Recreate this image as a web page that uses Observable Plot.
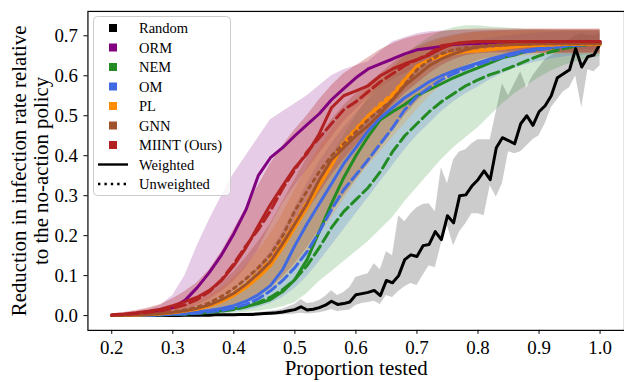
<!DOCTYPE html>
<html><head><meta charset="utf-8">
<script src="https://cdn.jsdelivr.net/npm/d3@7"></script>
<script src="https://cdn.jsdelivr.net/npm/@observablehq/plot@0.6"></script>
<style>
body{margin:0;background:#fff;}
#wrap{position:relative;width:624px;height:382px;overflow:hidden;}
#wrap svg{display:block;}
#legend{position:absolute;left:93px;top:16px;}
</style></head>
<body><div id="wrap"></div>
<script>
const xs = [0.20,0.22,0.24,0.26,0.28,0.30,0.32,0.34,0.36,0.38,0.40,0.42,0.44,0.46,0.48,0.50,0.52,0.54,0.56,0.58,0.60,0.62,0.64,0.66,0.68,0.70,0.72,0.74,0.76,0.78,0.80,0.82,0.84,0.86,0.88,0.90,0.92,0.94,0.96,0.98,1.00];
const xsRandom = [0.20,0.21,0.22,0.23,0.24,0.25,0.26,0.27,0.28,0.29,0.30,0.31,0.32,0.33,0.34,0.35,0.36,0.37,0.38,0.39,0.40,0.41,0.42,0.43,0.44,0.45,0.46,0.47,0.48,0.49,0.50,0.51,0.52,0.53,0.54,0.55,0.56,0.57,0.58,0.59,0.60,0.61,0.62,0.63,0.64,0.65,0.66,0.67,0.68,0.69,0.70,0.71,0.72,0.73,0.74,0.75,0.76,0.77,0.78,0.79,0.80,0.81,0.82,0.83,0.84,0.85,0.86,0.87,0.88,0.89,0.90,0.91,0.92,0.93,0.94,0.95,0.96,0.97,0.98,0.99,1.00];

const randomMean = [0,0,0,0,0,0,0,0,0,0, 0,0,0.001,0.001,0.001,0.001,0.001,0.002,0.002,0.002, 0.002,0.003,0.003,0.003,0.004,0.005,0.006,0.007,0.009,0.012, 0.015,0.022,0.014,0.016,0.020,0.026,0.036,0.028,0.030,0.034, 0.052,0.055,0.058,0.063,0.050,0.088,0.082,0.100,0.140,0.152, 0.148,0.175,0.178,0.210,0.190,0.250,0.232,0.300,0.302,0.324, 0.340,0.362,0.340,0.420,0.445,0.438,0.430,0.480,0.500,0.476, 0.510,0.525,0.550,0.595,0.605,0.615,0.668,0.622,0.648,0.652,0.680];
const randomLow = [0,0,0,0,0,0,0,0,0,0, 0,0,0,0,0,0,0,0,0,0, 0,0,0,0,0,0,0,0.001,0.002,0.003, 0.004,0.006,0.004,0.005,0.007,0.010,0.015,0.010,0.012,0.014, 0.025,0.030,0.033,0.036,0.028,0.050,0.045,0.060,0.072,0.080, 0.075,0.100,0.125,0.120,0.180,0.225,0.175,0.210,0.230,0.255, 0.255,0.250,0.325,0.297,0.330,0.410,0.405,0.410,0.425,0.440, 0.450,0.480,0.520,0.540,0.560,0.570,0.600,0.520,0.615,0.610,0.625];
const randomHigh = [0,0,0,0,0,0,0,0,0,0, 0.001,0.001,0.001,0.002,0.002,0.002,0.002,0.003,0.003,0.004, 0.004,0.005,0.006,0.007,0.008,0.009,0.011,0.013,0.016,0.022, 0.028,0.040,0.030,0.032,0.038,0.048,0.062,0.050,0.058,0.070, 0.095,0.100,0.105,0.130,0.115,0.160,0.150,0.250,0.235,0.255, 0.270,0.278,0.280,0.260,0.370,0.330,0.390,0.410,0.415,0.430, 0.440,0.440,0.440,0.510,0.580,0.550,0.580,0.610,0.570,0.600, 0.620,0.640,0.650,0.660,0.680,0.690,0.700,0.705,0.700,0.700,0.705];

const ormMean = [0.000,0.002,0.004,0.007,0.011,0.020,0.038,0.070,0.108,0.152,0.205,0.265,0.350,0.395,0.420,0.450,0.478,0.505,0.540,0.568,0.595,0.617,0.630,0.642,0.655,0.665,0.669,0.673,0.678,0.680,0.681,0.681,0.682,0.682,0.682,0.683,0.683,0.683,0.683,0.684,0.684];
const ormLow = [0,0,0.001,0.002,0.004,0.008,0.014,0.025,0.040,0.060,0.085,0.120,0.165,0.225,0.280,0.325,0.365,0.405,0.445,0.485,0.515,0.545,0.570,0.590,0.605,0.620,0.632,0.642,0.650,0.655,0.658,0.660,0.662,0.663,0.664,0.665,0.665,0.665,0.665,0.665,0.665];
const ormHigh = [0.003,0.006,0.010,0.016,0.025,0.050,0.100,0.175,0.240,0.300,0.355,0.400,0.445,0.490,0.510,0.530,0.550,0.575,0.600,0.615,0.625,0.635,0.660,0.685,0.695,0.705,0.710,0.712,0.713,0.713,0.713,0.713,0.713,0.713,0.713,0.713,0.713,0.713,0.713,0.713,0.713];

const nemWeighted = [0.000,0.000,0.001,0.001,0.002,0.003,0.004,0.006,0.008,0.012,0.017,0.023,0.030,0.040,0.060,0.090,0.140,0.210,0.280,0.345,0.400,0.448,0.490,0.510,0.528,0.550,0.565,0.580,0.595,0.608,0.620,0.632,0.645,0.652,0.662,0.667,0.671,0.674,0.676,0.678,0.679];
const nemUnweighted = [0.000,0.000,0.001,0.001,0.002,0.003,0.004,0.006,0.008,0.011,0.015,0.022,0.033,0.046,0.065,0.090,0.125,0.170,0.220,0.260,0.290,0.320,0.360,0.410,0.450,0.480,0.510,0.535,0.555,0.575,0.590,0.603,0.613,0.625,0.638,0.650,0.660,0.668,0.674,0.678,0.680];
const nemLow = [0,0,0,0,0,0,0.001,0.002,0.003,0.004,0.006,0.008,0.011,0.015,0.022,0.032,0.055,0.085,0.110,0.135,0.160,0.185,0.215,0.245,0.285,0.320,0.355,0.390,0.420,0.445,0.470,0.500,0.530,0.555,0.575,0.595,0.612,0.625,0.635,0.642,0.648];
const nemHigh = [0.001,0.002,0.003,0.005,0.007,0.010,0.014,0.020,0.028,0.040,0.055,0.075,0.100,0.130,0.170,0.220,0.280,0.340,0.400,0.450,0.500,0.545,0.585,0.620,0.650,0.675,0.695,0.710,0.720,0.725,0.725,0.722,0.720,0.718,0.716,0.715,0.714,0.713,0.713,0.713,0.713];

const omWeighted = [0.000,0.000,0.001,0.001,0.002,0.004,0.006,0.009,0.013,0.018,0.025,0.036,0.052,0.075,0.115,0.175,0.230,0.280,0.330,0.380,0.420,0.462,0.495,0.520,0.545,0.565,0.585,0.600,0.612,0.622,0.632,0.642,0.650,0.658,0.664,0.668,0.672,0.675,0.677,0.678,0.679];
const omUnweighted = [0.000,0.000,0.001,0.001,0.002,0.003,0.004,0.006,0.009,0.013,0.019,0.028,0.042,0.062,0.088,0.120,0.160,0.210,0.265,0.315,0.352,0.390,0.430,0.470,0.515,0.548,0.570,0.590,0.605,0.618,0.628,0.638,0.646,0.654,0.660,0.665,0.670,0.673,0.676,0.678,0.679];
const omLow = [0,0,0,0,0.001,0.001,0.002,0.003,0.004,0.006,0.009,0.013,0.020,0.030,0.045,0.068,0.098,0.135,0.175,0.215,0.255,0.295,0.335,0.375,0.415,0.450,0.480,0.510,0.535,0.555,0.572,0.590,0.605,0.618,0.628,0.636,0.642,0.647,0.650,0.652,0.653];
const omHigh = [0.001,0.002,0.003,0.005,0.008,0.012,0.017,0.024,0.034,0.048,0.066,0.090,0.120,0.160,0.210,0.270,0.330,0.385,0.430,0.470,0.505,0.540,0.570,0.595,0.615,0.632,0.648,0.660,0.670,0.680,0.688,0.694,0.698,0.702,0.705,0.707,0.709,0.710,0.711,0.711,0.711];

const plWeighted = [0.000,0.001,0.001,0.002,0.004,0.007,0.011,0.016,0.024,0.035,0.050,0.070,0.095,0.125,0.170,0.220,0.270,0.325,0.375,0.430,0.465,0.500,0.525,0.550,0.590,0.625,0.640,0.648,0.655,0.660,0.662,0.665,0.668,0.672,0.675,0.676,0.677,0.678,0.678,0.678,0.678];
const plUnweighted = [0.000,0.001,0.002,0.003,0.005,0.008,0.012,0.018,0.027,0.040,0.057,0.080,0.108,0.140,0.185,0.235,0.285,0.335,0.385,0.435,0.468,0.500,0.530,0.555,0.592,0.622,0.640,0.650,0.657,0.662,0.665,0.668,0.670,0.673,0.675,0.676,0.677,0.678,0.678,0.678,0.678];
const plLow = [0,0,0,0.001,0.002,0.003,0.004,0.006,0.010,0.015,0.022,0.032,0.045,0.062,0.085,0.118,0.155,0.200,0.245,0.290,0.335,0.375,0.410,0.445,0.480,0.515,0.548,0.575,0.598,0.615,0.628,0.636,0.642,0.647,0.650,0.652,0.653,0.654,0.654,0.654,0.654];
const plHigh = [0.002,0.003,0.005,0.008,0.011,0.016,0.024,0.035,0.050,0.070,0.095,0.125,0.162,0.205,0.255,0.315,0.370,0.420,0.465,0.505,0.540,0.570,0.595,0.620,0.645,0.665,0.680,0.690,0.698,0.704,0.708,0.710,0.711,0.712,0.712,0.712,0.712,0.712,0.712,0.712,0.712];

const gnnWeighted = [0.000,0.001,0.002,0.003,0.005,0.008,0.012,0.018,0.027,0.040,0.056,0.078,0.105,0.135,0.180,0.230,0.280,0.340,0.390,0.420,0.450,0.475,0.505,0.540,0.575,0.600,0.625,0.642,0.655,0.665,0.672,0.675,0.677,0.678,0.679,0.680,0.680,0.680,0.680,0.680,0.680];
const gnnUnweighted = [0.000,0.001,0.002,0.004,0.006,0.009,0.014,0.021,0.032,0.048,0.068,0.092,0.120,0.152,0.200,0.262,0.312,0.360,0.400,0.430,0.460,0.490,0.515,0.540,0.578,0.615,0.638,0.655,0.665,0.670,0.674,0.676,0.677,0.678,0.679,0.680,0.680,0.680,0.680,0.680,0.680];
const gnnLow = [0,0,0.001,0.001,0.002,0.003,0.005,0.008,0.012,0.018,0.026,0.038,0.052,0.070,0.095,0.130,0.170,0.215,0.260,0.300,0.340,0.380,0.420,0.460,0.500,0.535,0.565,0.590,0.610,0.625,0.638,0.645,0.650,0.653,0.655,0.656,0.657,0.657,0.657,0.657,0.657];
const gnnHigh = [0.002,0.004,0.006,0.009,0.013,0.019,0.027,0.040,0.058,0.082,0.110,0.145,0.185,0.230,0.285,0.340,0.395,0.445,0.490,0.525,0.555,0.580,0.605,0.630,0.655,0.672,0.685,0.695,0.702,0.707,0.710,0.712,0.713,0.714,0.715,0.716,0.716,0.716,0.716,0.716,0.716];

const miintWeighted = [0.002,0.004,0.007,0.011,0.016,0.025,0.035,0.046,0.063,0.088,0.125,0.170,0.225,0.278,0.325,0.370,0.405,0.455,0.520,0.550,0.562,0.575,0.600,0.617,0.630,0.640,0.652,0.668,0.680,0.684,0.686,0.686,0.686,0.686,0.686,0.686,0.686,0.686,0.686,0.686,0.686];
const miintUnweighted = [0.001,0.003,0.005,0.008,0.012,0.018,0.027,0.040,0.060,0.090,0.130,0.175,0.215,0.262,0.318,0.365,0.410,0.445,0.480,0.515,0.535,0.560,0.585,0.605,0.625,0.640,0.655,0.675,0.680,0.683,0.685,0.685,0.685,0.685,0.685,0.685,0.685,0.685,0.685,0.685,0.685];
const miintLow = [0,0.001,0.002,0.004,0.006,0.010,0.015,0.022,0.032,0.045,0.062,0.085,0.110,0.140,0.175,0.215,0.260,0.305,0.350,0.390,0.425,0.460,0.495,0.525,0.555,0.580,0.605,0.625,0.640,0.650,0.655,0.657,0.657,0.657,0.657,0.657,0.657,0.657,0.657,0.657,0.657];
const miintHigh = [0.004,0.008,0.013,0.019,0.028,0.042,0.060,0.082,0.115,0.160,0.215,0.270,0.325,0.380,0.425,0.465,0.500,0.540,0.575,0.605,0.625,0.645,0.665,0.680,0.692,0.700,0.706,0.710,0.714,0.716,0.717,0.717,0.717,0.717,0.717,0.717,0.717,0.717,0.717,0.717,0.717];

const xTicks = [0.2,0.3,0.4,0.5,0.6,0.7,0.8,0.9,1.0];
const yTicks = [0.0,0.1,0.2,0.3,0.4,0.5,0.6,0.7];
const legendNames = ["Random","ORM","NEM","OM","PL","GNN","MIINT (Ours)"];
const legendColors = ["#000000","#800080","#228b22","#4169e1","#ff8c00","#a0522d","#b22222"];
const styleNames = ["Weighted","Unweighted"];

const FONT = "'Liberation Serif', 'DejaVu Serif', serif";

const methods = [
  {color:"#808080", op: 0.4, x: xsRandom, low: randomLow, high: randomHigh, lines: [{v: randomMean, dash: null, color:"#000000"}]},
  {color:"#800080", op: 0.2, x: xs, low: ormLow, high: ormHigh, lines: [{v: ormMean, dash: null}]},
  {color:"#228b22", op: 0.2, x: xs, low: nemLow, high: nemHigh, lines: [{v: nemWeighted, dash: null},{v: nemUnweighted, dash: "11,5"}]},
  {color:"#4169e1", op: 0.22, x: xs, low: omLow, high: omHigh, lines: [{v: omWeighted, dash: null},{v: omUnweighted, dash: "11,5"}]},
  {color:"#ff8c00", op: 0.22, x: xs, low: plLow, high: plHigh, lines: [{v: plWeighted, dash: null},{v: plUnweighted, dash: "3,5"}]},
  {color:"#a0522d", op: 0.3, x: xs, low: gnnLow, high: gnnHigh, lines: [{v: gnnWeighted, dash: null},{v: gnnUnweighted, dash: "3,5"}]},
  {color:"#b22222", op: 0.3, x: xs, low: miintLow, high: miintHigh, lines: [{v: miintWeighted, dash: null},{v: miintUnweighted, dash: "11,5"}]}
];

const marks = [];
methods.forEach((m) => {
  const band = m.x.map((x, i) => ({x, lo: m.low[i], hi: m.high[i]}));
  marks.push(Plot.areaY(band, {x: "x", y1: "lo", y2: "hi", fill: m.color, fillOpacity: m.op}));
});
methods.forEach((m) => {
  m.lines.forEach(l => {
    const rows = m.x.map((x, i) => ({x, v: l.v[i]}));
    marks.push(Plot.line(rows, {x: "x", y: "v", stroke: l.color || m.color, strokeWidth: 3,
      strokeDasharray: l.dash || undefined, strokeLinejoin: "round"}));
  });
});

const chart = Plot.plot({
  width: 628, height: 382,
  marginLeft: 88, marginRight: 0, marginTop: 11, marginBottom: 50,
  x: {domain: [0.161, 1.04]},
  y: {domain: [-0.037, 0.761]},
  style: {fontFamily: FONT, fontSize: "19px", background: "white", color: "black", overflow: "hidden"},
  marks: [
    ...marks,
    Plot.frame({stroke: "black", strokeWidth: 1.2}),
    Plot.axisX({ticks: xTicks, tickFormat: d => d.toFixed(1), tickSize: 4, tickPadding: 6, label: null, fontSize: 19}),
    Plot.axisY({ticks: yTicks, tickFormat: d => d.toFixed(1), tickSize: 4, tickPadding: 6, label: null, fontSize: 19}),
    Plot.text(["Proportion tested"], {frameAnchor: "bottom", dy: 38, fontSize: 21, lineAnchor: "middle", textAnchor: "middle"}),
    Plot.text(["Reduction in infection rate relative\nto the no-action policy"], {frameAnchor: "left", rotate: -90, dx: -58, fontSize: 21, lineHeight: 1.05, lineAnchor: "middle", textAnchor: "middle"})
  ]
});
const wrap = document.getElementById("wrap");
wrap.appendChild(chart);

// Legend overlay
const lg = d3.select(wrap).append("svg").attr("id", "legend").attr("width", 139).attr("height", 181)
  .style("font-family", FONT).style("font-size", "14.5px");
lg.append("rect").attr("x", 0.5).attr("y", 0.5).attr("width", 137).attr("height", 179).attr("rx", 4)
  .attr("fill", "white").attr("fill-opacity", 0.8).attr("stroke", "#cccccc");
const rowY = i => 12 + 19.5 * i;
legendNames.forEach((n, i) => {
  lg.append("rect").attr("x", 16).attr("y", rowY(i) - 4).attr("width", 8).attr("height", 8).attr("fill", legendColors[i]);
  lg.append("text").attr("x", 46).attr("y", rowY(i)).attr("dy", "0.35em").text(n);
});
styleNames.forEach((n, j) => {
  const i = legendNames.length + j;
  lg.append("line").attr("x1", 5).attr("x2", 35).attr("y1", rowY(i)).attr("y2", rowY(i))
    .attr("stroke", "black").attr("stroke-width", 2.4).attr("stroke-dasharray", j === 1 ? "2.4,4" : null);
  lg.append("text").attr("x", 46).attr("y", rowY(i)).attr("dy", "0.35em").text(n);
});
</script>
</body></html>
